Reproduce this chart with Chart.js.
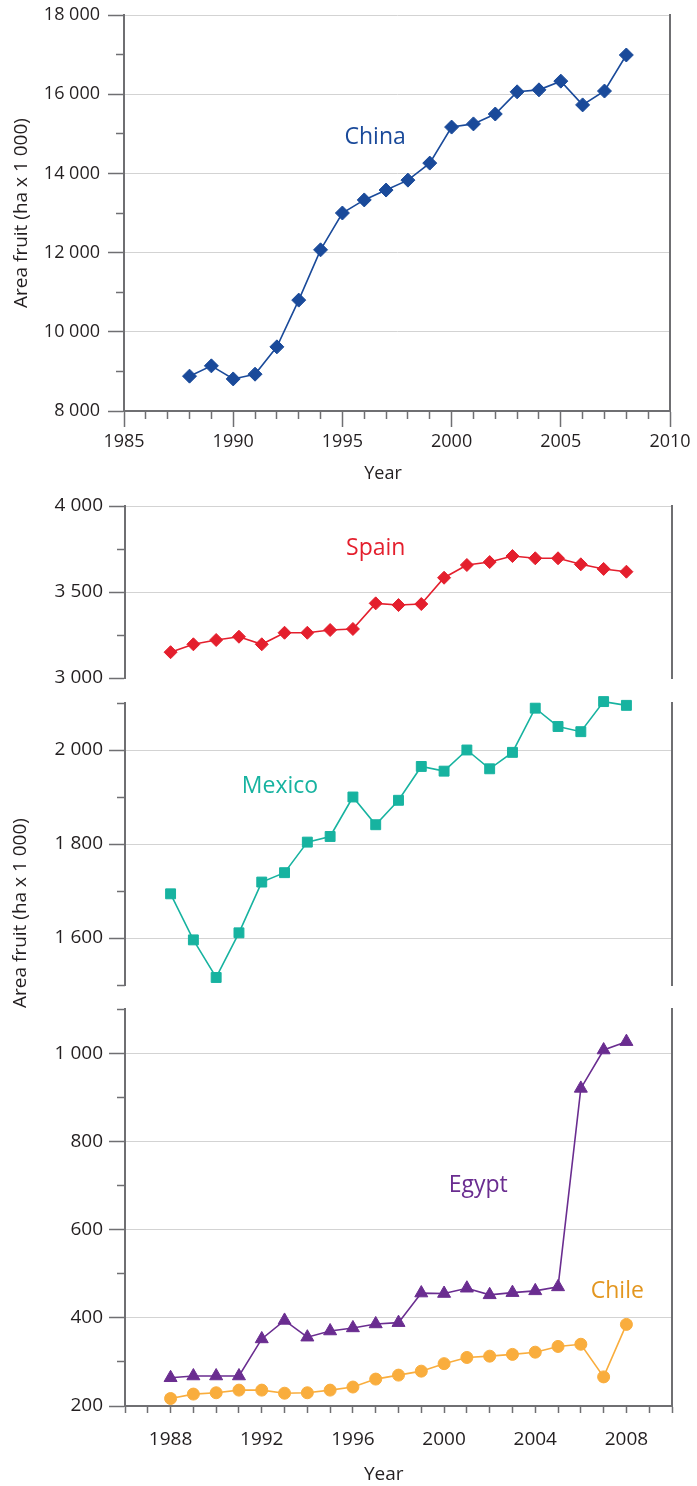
<!DOCTYPE html>
<html>
<head>
<meta charset="utf-8">
<script src="https://cdn.jsdelivr.net/npm/chart.js@4.4.1/dist/chart.umd.min.js"></script>
<style>
  body { margin: 0; background: #fff; }
  #wrap { position: relative; width: 697px; height: 1486px; }
  canvas { position: absolute; left: 0; top: 0; }
</style>
</head>
<body>
<div id="wrap">
  <canvas id="china" width="697" height="1486"></canvas>
  <canvas id="spain" width="697" height="1486"></canvas>
  <canvas id="mexico" width="697" height="1486"></canvas>
  <canvas id="egypt" width="697" height="1486"></canvas>
</div>
<script>
// ---- data (area fruit, ha x 1 000) ----
const years  = [1988, 1989, 1990, 1991, 1992, 1993, 1994, 1995, 1996, 1997, 1998,
                1999, 2000, 2001, 2002, 2003, 2004, 2005, 2006, 2007, 2008];
const china  = [8880, 9140, 8810, 8930, 9620, 10800, 12070, 13000, 13330, 13580, 13830,
                14260, 15170, 15250, 15500, 16060, 16110, 16330, 15730, 16080, 16990];
const spain  = [3150, 3196, 3221, 3240, 3196, 3263, 3263, 3279, 3285, 3434, 3424,
                3430, 3583, 3657, 3674, 3709, 3696, 3696, 3661, 3634, 3618];
const mexico = [1694, 1596, 1516, 1611, 1719, 1739, 1804, 1816, 1900, 1841, 1893,
                1965, 1955, 2000, 1960, 1995, 2089, 2050, 2039, 2103, 2095];
const egypt  = [264, 268, 268, 268, 352, 394, 356, 370, 377, 386, 389,
                456, 455, 467, 452, 457, 461, 470, 920, 1007, 1026];
const chile  = [217, 227, 230, 236, 236, 229, 230, 236, 243, 261, 270,
                279, 296, 310, 313, 317, 322, 335, 340, 266, 385];

// ---- ticks ----
const chinaXTicks  = [1985, 1990, 1995, 2000, 2005, 2010];
const chinaXMinor  = [1986, 1987, 1988, 1989, 1991, 1992, 1993, 1994, 1996, 1997, 1998, 1999,
                      2001, 2002, 2003, 2004, 2006, 2007, 2008, 2009];
const chinaYTicks  = [8000, 10000, 12000, 14000, 16000, 18000];
const chinaYMinor  = [9000, 11000, 13000, 15000, 17000];
const spainYTicks  = [3000, 3500, 4000];
const spainYMinor  = [3250, 3750];
const mexicoYTicks = [1600, 1800, 2000];
const mexicoYMinor = [1500, 1700, 1900, 2100];
const egyptYTicks  = [200, 400, 600, 800, 1000];
const egyptYMinor  = [300, 500, 700, 900, 1100];
const lowerXTicks  = [1986, 1987, 1988, 1989, 1990, 1991, 1992, 1993, 1994, 1995, 1996, 1997, 1998,
                      1999, 2000, 2001, 2002, 2003, 2004, 2005, 2006, 2007, 2008, 2009, 2010];
const lowerXLabels = [1988, 1992, 1996, 2000, 2004, 2008];

const AXIS = '#6f6f72';
const GRID = '#d3d3d3';
const TEXT = '#231f20';
const FONT = '"Open Sans", "Noto Sans", sans-serif';
const PAD6 = '\u00a0\u00a0\u00a0\u00a0\u00a0\u00a0'; // nudges "Year" a little left, as in the print

function spaced(v) {
  return String(v).replace(/\B(?=(\d{3})+(?!\d))/g, ' ');
}
function pts(vals) {
  return years.map((yr, i) => ({x: yr, y: vals[i]}));
}
function setTicks(list) {
  return s => { s.ticks = list.map(v => ({value: v})); };
}
function fixW(w) {
  return s => { s.width = w; s.paddingLeft = s.paddingRight = s.paddingTop = s.paddingBottom = 0; };
}
function fixH(h) {
  return s => { s.height = h; s.paddingLeft = s.paddingRight = s.paddingTop = s.paddingBottom = 0; };
}

// series name written inside the plot
const tagPlugin = {
  id: 'tags',
  afterDatasetsDraw(chart, args, opts) {
    const ctx = chart.ctx;
    (opts.items || []).forEach(t => {
      ctx.save();
      ctx.font = '23px ' + FONT;
      ctx.fillStyle = t.color;
      ctx.textAlign = 'center';
      ctx.textBaseline = 'alphabetic';
      ctx.fillText(t.text, chart.scales.x.getPixelForValue(t.x), chart.scales.y.getPixelForValue(t.y));
      ctx.restore();
    });
  }
};

// shared y title of the three lower panels
const sideTitle = {
  id: 'sideTitle',
  afterDraw(chart, args, opts) {
    if (!opts.text) return;
    const ctx = chart.ctx;
    ctx.save();
    ctx.translate(opts.x, opts.y);
    ctx.rotate(-Math.PI / 2);
    ctx.font = '19px ' + FONT;
    ctx.fillStyle = TEXT;
    ctx.textAlign = 'center';
    ctx.textBaseline = 'middle';
    ctx.fillText(opts.text, 0, 0);
    ctx.restore();
  }
};

function line(vals, color, style, radius) {
  return {
    data: pts(vals),
    borderColor: color,
    backgroundColor: color,
    borderWidth: 1.6,
    pointStyle: style,
    pointRadius: radius,
    pointBorderWidth: 1,
    pointBackgroundColor: color,
    pointBorderColor: color,
    tension: 0,
    clip: false,
    xAxisID: 'x',
    yAxisID: 'y'
  };
}

function yScales(min, max, major, minor, width, size, pad, title) {
  return {
    y: {
      type: 'linear', position: 'left', min: min, max: max, weight: 1,
      afterBuildTicks: setTicks(major), afterFit: fixW(width),
      grid: {
        color: c => (c.tick && c.tick.value === min) ? 'rgba(0,0,0,0)' : GRID,
        lineWidth: 1, tickLength: 16, tickColor: AXIS, tickWidth: 1.5
      },
      border: {color: AXIS, width: 2},
      ticks: {color: TEXT, font: {size: size}, padding: pad, autoSkip: false, callback: v => spaced(v)},
      title: title ? {display: true, text: title, color: TEXT, font: {size: 19}, padding: {top: 10, bottom: 0}} : {display: false}
    },
    y2: {
      type: 'linear', position: 'left', min: min, max: max, weight: 0,
      afterBuildTicks: setTicks(minor), afterFit: fixW(0),
      grid: {drawOnChartArea: false, tickLength: 8, tickColor: AXIS, tickWidth: 1.5},
      border: {display: false},
      ticks: {display: false}
    },
    yr: {
      type: 'linear', position: 'right', min: 0, max: 1,
      afterFit: fixW(0),
      grid: {drawOnChartArea: false, drawTicks: false},
      border: {color: AXIS, width: 2},
      ticks: {display: false}
    }
  };
}

function baseOptions(padding, scales, tags, side) {
  return {
    responsive: false,
    animation: false,
    devicePixelRatio: 1,
    events: [],
    layout: {padding: padding, autoPadding: false},
    scales: scales,
    plugins: {
      legend: {display: false},
      tooltip: {enabled: false},
      tags: {items: tags},
      sideTitle: side || {}
    }
  };
}

function draw() {
  Chart.defaults.font.family = FONT;
  Chart.defaults.color = TEXT;

  // China
  let s1 = yScales(8000, 18000, chinaYTicks, chinaYMinor, 124, 18, 8, 'Area fruit (ha x 1 000)');
  s1.x = {
    type: 'linear', position: 'bottom', min: 1985, max: 2010, weight: 1,
    afterBuildTicks: setTicks(chinaXTicks), afterFit: fixH(74),
    grid: {drawOnChartArea: false, tickLength: 16, tickColor: AXIS, tickWidth: 1.5},
    border: {color: AXIS, width: 2},
    ticks: {color: TEXT, font: {size: 18}, padding: 4, autoSkip: false, maxRotation: 0,
            callback: v => String(v)},
    title: {display: true, text: 'Year' + PAD6, color: TEXT, font: {size: 18}, padding: {top: 0, bottom: 0}}
  };
  s1.x2 = {
    type: 'linear', position: 'bottom', min: 1985, max: 2010, weight: 0,
    afterBuildTicks: setTicks(chinaXMinor), afterFit: fixH(0),
    grid: {drawOnChartArea: false, tickLength: 8, tickColor: AXIS, tickWidth: 1.5},
    border: {display: false},
    ticks: {display: false}
  };
  new Chart(document.getElementById('china'), {
    type: 'line',
    data: {datasets: [line(china, '#1a4a9a', 'rectRot', 7)]},
    options: baseOptions({left: 0, top: 15, right: 27, bottom: 1001}, s1,
      [{text: 'China', x: 1996.5, y: 14742, color: '#1a4a9a'}]),
    plugins: [tagPlugin]
  });

  // Spain
  let s2 = yScales(3000, 4000, spainYTicks, spainYMinor, 125, 19, 6, null);
  s2.x = {type: 'linear', min: 1986, max: 2010, display: false, afterFit: fixH(0)};
  new Chart(document.getElementById('spain'), {
    type: 'line',
    data: {datasets: [line(spain, '#e41f2d', 'rectRot', 6.5)]},
    options: baseOptions({left: 0, top: 506, right: 25, bottom: 808}, s2,
      [{text: 'Spain', x: 1997, y: 3715, color: '#e41f2d'}]),
    plugins: [tagPlugin]
  });

  // Mexico
  let s3 = yScales(1500, 2100, mexicoYTicks, mexicoYMinor, 125, 19, 6, null);
  s3.x = {type: 'linear', min: 1986, max: 2010, display: false, afterFit: fixH(0)};
  new Chart(document.getElementById('mexico'), {
    type: 'line',
    data: {datasets: [line(mexico, '#17b3a0', 'rect', 7)]},
    options: baseOptions({left: 0, top: 703, right: 25, bottom: 501}, s3,
      [{text: 'Mexico', x: 1992.8, y: 1908, color: '#17b3a0'}],
      {text: 'Area fruit (ha x 1 000)', x: 21, y: 913}),
    plugins: [tagPlugin, sideTitle]
  });

  // Egypt and Chile
  let s4 = yScales(200, 1100, egyptYTicks, egyptYMinor, 125, 19, 6, null);
  s4.x = {
    type: 'linear', position: 'bottom', min: 1986, max: 2010, weight: 1,
    afterBuildTicks: setTicks(lowerXTicks), afterFit: fixH(80),
    grid: {drawOnChartArea: false, tickLength: 7, tickColor: AXIS, tickWidth: 1.5},
    border: {color: AXIS, width: 2},
    ticks: {color: TEXT, font: {size: 19}, padding: 15, autoSkip: false, maxRotation: 0,
            callback: v => lowerXLabels.includes(v) ? String(v) : ''},
    title: {display: true, text: 'Year' + PAD6, color: TEXT, font: {size: 19}, padding: {top: 0, bottom: 0}}
  };
  new Chart(document.getElementById('egypt'), {
    type: 'line',
    data: {datasets: [
      line(chile, '#f9ad3d', 'circle', 6),
      line(egypt, '#6a2d90', 'triangle', 7.5)
    ]},
    options: baseOptions({left: 0, top: 1009, right: 25, bottom: 0}, s4, [
      {text: 'Egypt', x: 2001.5, y: 685, color: '#6a2d90'},
      {text: 'Chile', x: 2007.6, y: 444, color: '#e3961f'}
    ]),
    plugins: [tagPlugin]
  });
}

if (document.fonts && document.fonts.load) {
  document.fonts.load('18px "Open Sans"').then(draw, draw);
} else {
  draw();
}
</script>
</body>
</html>
